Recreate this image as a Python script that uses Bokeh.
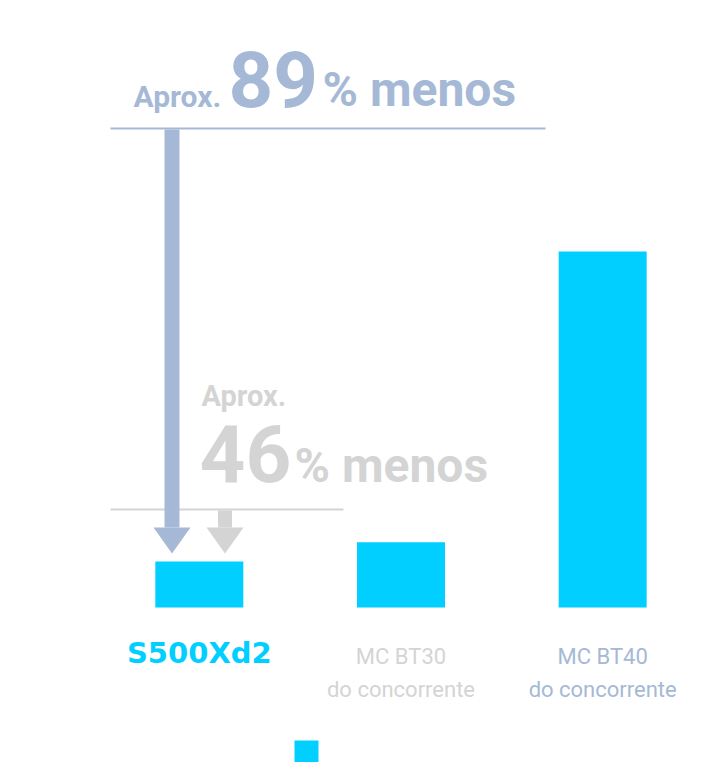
from bokeh.plotting import figure
from bokeh.models import Range1d, Legend, LegendItem, ColumnDataSource
from bokeh.core.properties import value
from bokeh.embed import file_html
from bokeh.resources import INLINE

# ---------------- data ----------------
categories = ["S500Xd2", "MC BT30 do concorrente", "MC BT40 do concorrente"]
values = [12.9, 18.3, 100.0]
label_line1 = ["S500Xd2", "MC BT30", "MC BT40"]
label_line2 = ["", "do concorrente", "do concorrente"]
callout_prefix = ["Aprox.", "Aprox."]
callout_pct = ["89", "46"]
callout_suffix = ["% menos", "% menos"]

# ---------------- style ----------------
CYAN = "#00CFFF"
BLUE = "#A5B9D6"
GRAY = "#D4D4D4"
label_colors = [CYAN, GRAY, BLUE]

W, H = 704, 762
MB_L, MB_R = 98, 1
FRAME_W = W - MB_L - MB_R
PX_PER_X = FRAME_W / 3.0
PX_PER_Y = 3.56          # pixels per value unit
BASE_PY = 607            # pixel row of value 0
K_BASE = 0.37            # baseline correction (fraction of font size)

def X(px):  # pixel column -> data x
    return (px - MB_L) / PX_PER_X

def Y(py):  # pixel row -> data y
    return (BASE_PY - py) / PX_PER_Y

def TY(py, size):  # text baseline pixel row -> data y
    return Y(py - K_BASE * size)

p = figure(width=W, height=H, output_backend="svg", toolbar_location=None,
           x_axis_type=None, y_axis_type=None,
           x_range=Range1d(0, 3),
           y_range=Range1d(-(H - BASE_PY) / PX_PER_Y, BASE_PY / PX_PER_Y),
           min_border_left=MB_L, min_border_right=MB_R,
           min_border_top=0, min_border_bottom=0)
p.outline_line_color = None
p.xgrid.visible = False
p.ygrid.visible = False
p.background_fill_color = "white"

xs = [i + 0.5 for i in range(len(categories))]
src = ColumnDataSource(dict(x=xs, top=values, cat=categories))
bars = p.vbar(x="x", top="top", bottom=0, width=88 / PX_PER_X, source=src,
              fill_color=CYAN, line_color=None)

def txt(x, py, s, size, color, font="Roboto", style="bold", align="left"):
    n = len(s)
    p.text(x=x, y=[TY(py, size)] * n, text=s, text_align=align,
           text_baseline="alphabetic", text_font=value(font),
           text_font_style=style, text_font_size=f"{size}px", text_color=color)

# category labels
txt(xs[:1], 663, label_line1[:1], 29, label_colors[0], font="DejaVu Sans", align="center")
txt(xs[1:], 664, label_line1[1:], 22, label_colors[1:], style="normal", align="center")
txt(xs[1:], 697, label_line2[1:], 22, label_colors[1:], style="normal", align="center")

# callout 1 (vs MC BT40)
txt([X(133)], 107, [callout_prefix[0]], 30, BLUE)
txt([X(228)], 107, [callout_pct[0]], 78, BLUE)
txt([X(322)], 107, [callout_suffix[0]], 48, BLUE)
p.segment(x0=[X(110)], x1=[X(545)], y0=[Y(128)], y1=[Y(128)], line_color=BLUE, line_width=2)

# callout 2 (vs MC BT30)
txt([X(201)], 406, [callout_prefix[1]], 29, GRAY)
txt([X(199)], 483, [callout_pct[1]], 80, GRAY)
txt([X(294)], 483, [callout_suffix[1]], 48, GRAY)
p.segment(x0=[X(110)], x1=[X(343)], y0=[Y(509)], y1=[Y(509)], line_color=GRAY, line_width=2)

# arrows (tip just above S500Xd2 bar)
tip = values[0] + 8 / PX_PER_Y
head_len = 26 / PX_PER_Y

def arrow(cx, stem_w, head_w, top_py, color):
    p.quad(left=[X(cx - stem_w / 2)], right=[X(cx + stem_w / 2)],
           top=[Y(top_py)], bottom=[tip + head_len], fill_color=color, line_color=None)
    p.patch(x=[X(cx - head_w / 2), X(cx + head_w / 2), X(cx)],
            y=[tip + head_len, tip + head_len, tip], fill_color=color, line_color=None)

arrow(171.5, 15, 37, 129, BLUE)
arrow(224.5, 14, 37, 510, GRAY)

# legend (swatch only)
legend = Legend(items=[LegendItem(label=" ", renderers=[bars])],
                location=(193, -5), glyph_width=30, glyph_height=30,
                padding=0, margin=0, border_line_color=None,
                background_fill_alpha=0, label_text_font_size="10px")
p.add_layout(legend)

open("out.html", "w").write(file_html(p, INLINE))
